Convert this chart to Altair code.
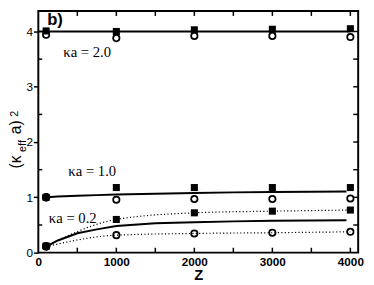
import altair as alt
import pandas as pd

# ---- data ----
Z_PTS = [100, 1000, 2000, 3000, 4000]
SQ_20 = [4.01, 4.00, 4.03, 4.04, 4.05]
CI_20 = [3.94, 3.88, 3.92, 3.92, 3.90]
SQ_10 = [1.0, 1.177, 1.177, 1.177, 1.177]
CI_10 = [1.0, 0.957, 0.97, 0.97, 0.98]
SQ_02 = [0.12, 0.60, 0.72, 0.75, 0.77]
CI_02 = [0.11, 0.316, 0.347, 0.36, 0.377]

Z_FILLED = [100, 100]
Y_FILLED = [1.0, 0.115]

Z_FIT = [100, 250, 500, 750, 1000, 1500, 2000, 2500, 3000, 3500, 3950]
FIT_02 = [0.11, 0.22, 0.35, 0.42, 0.48, 0.53, 0.55, 0.565, 0.575, 0.58, 0.585]
FIT_10 = [1.0, 1.015, 1.03, 1.04, 1.05, 1.065, 1.08, 1.09, 1.095, 1.10, 1.105]
Z_FIT20 = [0, 4000]
FIT_20 = [4.0, 4.0]

LABELS = ["κa = 2.0", "κa = 1.0", "κa = 0.2"]
LABEL_Z = [320, 385, 135]
LABEL_Y = [3.54, 1.386, 0.53]

X_TICKS = [0, 1000, 2000, 3000, 4000]
X_MINOR = [500, 1000, 1500, 2000, 2500, 3000, 3500, 4000]
Y_TICKS = [0, 1, 2, 3, 4]
Y_MINOR = [0.5, 1.5, 2.5, 3.5]
Y_ALL = [0.5, 1, 1.5, 2, 2.5, 3, 3.5, 4]

W, H = 327, 247

xs = alt.Scale(domain=[0, 4100], nice=False, zero=False)
ys = alt.Scale(domain=[0, 4.37], nice=False, zero=False)

X = alt.X("Z:Q", scale=xs, axis=alt.Axis(
    values=X_TICKS, ticks=False, domain=False, grid=False, format="d",
    labelFont="Liberation Sans", labelFontWeight="bold", labelFontSize=12,
    labelColor="black", labelPadding=4, labelFlush=False,
    title="Z", titleFont="Liberation Sans", titleFontWeight="bold",
    titleFontSize=15, titleColor="black", titlePadding=0))
Y = alt.Y("val:Q", scale=ys, axis=alt.Axis(
    values=Y_TICKS, tickSize=5, tickWidth=1.5, tickColor="black",
    domain=False, grid=False, labelFont="Liberation Sans", labelFontSize=12,
    labelColor="black", labelPadding=1, title=None, format="d"))

def frame(zs, vs, series):
    return pd.DataFrame({"Z": zs, "val": vs, "s": series})

circles = pd.concat([
    frame(Z_PTS, CI_20, "2.0"), frame(Z_PTS, CI_10, "1.0"), frame(Z_PTS, CI_02, "0.2")])
squares = pd.concat([
    frame(Z_PTS, SQ_20, "2.0"), frame(Z_PTS, SQ_10, "1.0"), frame(Z_PTS, SQ_02, "0.2")])
filled = frame(Z_FILLED, Y_FILLED, "f")
fits = pd.concat([
    frame(Z_FIT20, FIT_20, "2.0"), frame(Z_FIT, FIT_10, "1.0"), frame(Z_FIT, FIT_02, "0.2")])
dots = pd.concat([
    frame(Z_PTS, SQ_02, "sq"), frame(Z_PTS, CI_02, "ci")])
labels = pd.DataFrame({"Z": LABEL_Z, "val": LABEL_Y, "t": LABELS})

fit_layer = alt.Chart(fits).mark_line(color="black", strokeWidth=2).encode(
    x=X, y=Y, detail="s:N")
dot_layer = alt.Chart(dots).mark_line(
    color="black", strokeWidth=1.2, strokeDash=[1.2, 2.3], interpolate="monotone").encode(
    x=X, y=Y, detail="s:N")
circ_layer = alt.Chart(circles).mark_point(
    shape="circle", size=42, filled=False, color="black", strokeWidth=1.8, opacity=1).encode(x=X, y=Y)
sq_layer = alt.Chart(squares).mark_point(
    shape="square", size=52, filled=True, color="black", opacity=1).encode(x=X, y=Y)
fill_layer = alt.Chart(filled).mark_point(
    shape="circle", size=75, filled=True, color="black", opacity=1).encode(x=X, y=Y)
text_layer = alt.Chart(labels).mark_text(
    align="left", baseline="alphabetic", font="Liberation Serif", fontSize=15,
    color="black").encode(x=X, y=Y, text="t:N")

# inward / minor ticks (same scales and axes as the data)
xt = pd.DataFrame({"Z": X_MINOR})
yt_all = pd.DataFrame({"val": Y_ALL})
yt_minor = pd.DataFrame({"val": Y_MINOR})
bottom_ticks = alt.Chart(xt).mark_rule(color="black", strokeWidth=1.5).encode(
    x=X, y=alt.value(H), y2=alt.value(H - 5))
top_ticks = alt.Chart(xt).mark_rule(color="black", strokeWidth=1.5).encode(
    x=X, y=alt.value(0), y2=alt.value(5))
right_ticks = alt.Chart(yt_all).mark_rule(color="black", strokeWidth=1.5).encode(
    y=Y, x=alt.value(W), x2=alt.value(W - 5))
left_ticks = alt.Chart(yt_minor).mark_rule(color="black", strokeWidth=1.5).encode(
    y=Y, x=alt.value(0), x2=alt.value(4))

# panel tag and y-axis title pieces
def ptext(txt, x, y, size, weight="normal", angle=0):
    kw = dict(align="left", baseline="alphabetic", font="Liberation Sans",
              fontSize=size, fontWeight=weight, color="black")
    if angle:
        kw["angle"] = angle
    return alt.Chart(pd.DataFrame({"t": [txt]})).mark_text(**kw).encode(
        x=alt.value(x), y=alt.value(y), text="t:N")

tag = ptext("b)", 9, 14, 17, "bold")
ylab = [
    ptext("(κ", -18, 161, 16, angle=270),
    ptext("eff", -13, 144, 11, angle=270),
    ptext("a)", -18, 126, 16, angle=270),
    ptext("2", -21, 108, 11, angle=270),
]

chart = alt.layer(
    circ_layer, fit_layer, dot_layer, sq_layer, fill_layer, text_layer,
    bottom_ticks, top_ticks, right_ticks, left_ticks, tag, *ylab
).properties(
    width=W, height=H,
    autosize=alt.AutoSizeParams(type="none"),
    padding={"left": 31, "top": 0, "right": 8, "bottom": 30},
).configure_view(stroke="black", strokeWidth=2)

chart.save("out.html", embed_options={"renderer": "svg", "actions": False})
